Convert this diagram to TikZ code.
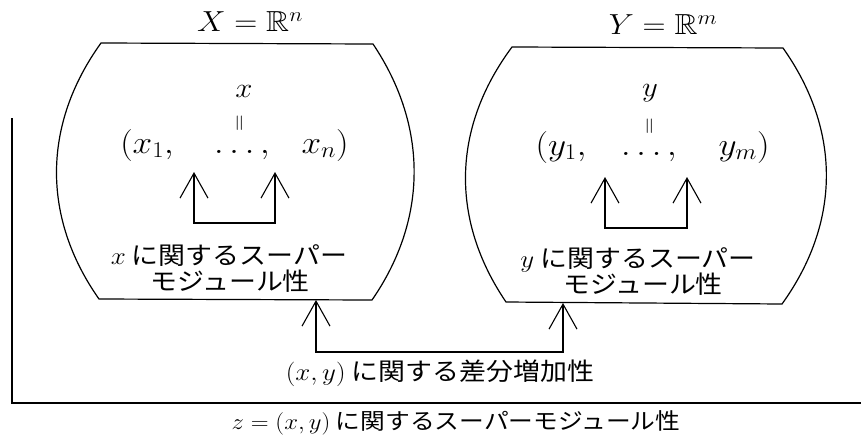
\RequirePackage{fix-cm}
\documentclass[tikz,border=0pt]{standalone}
\usepackage{amssymb}
\usepackage{fontspec}
\newfontfamily\cjk{Noto Sans CJK JP}
\usetikzlibrary{arrows.meta}
\newcommand{\hs}[1]{\scalebox{1.1}[1]{#1}}
\tikzset{
  txt/.style={inner sep=0pt, font=\fontsize{24.5}{30}\selectfont\cjk},
  txtb/.style={inner sep=0pt, font=\fontsize{22.5}{28}\selectfont\cjk},
  row/.style={inner sep=0pt, font=\fontsize{32}{36}\selectfont},
  lbl/.style={inner sep=0pt, font=\fontsize{28}{32}\selectfont},
  ttl/.style={inner sep=0pt, font=\fontsize{29}{34}\selectfont},
  vert/.style={inner sep=0pt, rotate=90, font=\fontsize{23}{23}\selectfont},
  boxline/.style={line width=1.2pt},
  tipv/.tip={Straight Barb[length=25pt,width=28pt]},
  uparr/.style={line width=1.1pt, tipv-tipv},
}
\begin{document}
\begin{tikzpicture}[x=1pt,y=-1pt]
\useasboundingbox (0,0) rectangle (861,437);
% titles
\node[ttl] (XT) at (250,22) {\hs{$X = \mathbb{R}^n$}};
\node[ttl] (YT) at (663,25) {\hs{$Y = \mathbb{R}^m$}};
% left box
\draw[boxline] (101,43) -- (373,44) .. controls (428,126) and (428,219) .. (372,300)
  -- (99,299) .. controls (42,218) and (42,125) .. (101,43) -- cycle;
% right box
\draw[boxline] (512,47) -- (783,48) .. controls (841,130) and (841,222) .. (782,304)
  -- (506,302) .. controls (451,221) and (451,129) .. (512,47) -- cycle;
% left contents
\node[lbl] (xv) at (244,91) {\hs{$x$}};
\node[vert] (xeq) at (241,123) {$=$};
\node[row, anchor=base] (x1) at (147,153) {\hs{$(x_1,$}};
\node[row, anchor=base] (xd) at (242,153) {\hs{$\ldots,$}};
\node[row, anchor=base] (xn) at (325,153) {\hs{$x_n)$}};
\coordinate (xa1) at (194,172);
\coordinate (xa2) at (275,172);
\coordinate (xb1) at (194,223);
\coordinate (xb2) at (275,223);
\draw[uparr] (xa1) -- (xb1) -- (xb2) -- (xa2);
\node[txt] (xl1) at (229,256) {\hs{$x$ に関するスーパー}};
\node[txt] (xl2) at (230,281) {\hs{モジュール性}};
% right contents
\node[lbl] (yv) at (650,93) {\hs{$y$}};
\node[vert] (yeq) at (651,126) {$=$};
\node[row, anchor=base] (y1) at (561,155) {\hs{$(y_1,$}};
\node[row, anchor=base] (yd) at (649,155) {\hs{$\ldots,$}};
\node[row, anchor=base] (ym) at (744,155) {\hs{$y_m)$}};
\coordinate (ya1) at (605,177);
\coordinate (ya2) at (687,177);
\coordinate (yb1) at (605,228);
\coordinate (yb2) at (687,228);
\draw[uparr] (ya1) -- (yb1) -- (yb2) -- (ya2);
\node[txt] (yl1) at (638,260) {\hs{$y$ に関するスーパー}};
\node[txt] (yl2) at (643,284) {\hs{モジュール性}};
% lower arrows
\coordinate (la) at (316,300);
\coordinate (ra) at (563,303);
\coordinate (lb) at (316,352);
\coordinate (rb) at (563,352);
\draw[uparr] (la) -- (lb) -- (rb) -- (ra);
\node[txt] (diff) at (440,373) {\hs{$(x,y)$ に関する差分増加性}};
% outer bracket
\coordinate (ot) at (12,118);
\coordinate (oc) at (12,403);
\coordinate (or) at (861,403);
\draw[boxline] (ot) -- (oc) -- (or);
\node[txtb] (sup) at (456,423) {\hs{$z = (x,y)$ に関するスーパーモジュール性}};
\end{tikzpicture}
\end{document}
